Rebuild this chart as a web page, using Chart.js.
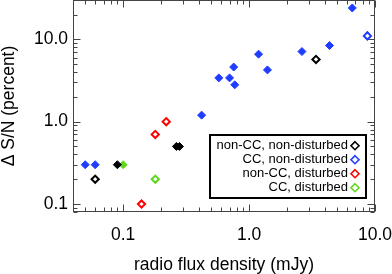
<!DOCTYPE html>
<html>
<head>
<meta charset="utf-8">
<script src="https://cdn.jsdelivr.net/npm/chart.js@4.4.0/dist/chart.umd.min.js"></script>
<style>
  html, body { margin: 0; padding: 0; background: #fff; }
  canvas { display: block; }
</style>
</head>
<body>
<canvas id="chart" width="392" height="274"></canvas>
<script>
// radio flux density (mJy) -> delta S/N (percent)
const nonCcUndistOpenX = [0.06, 3.4];
const nonCcUndistOpenY = [0.2, 5.7];
const nonCcUndistFilledX = [0.09, 0.265, 0.28];
const nonCcUndistFilledY = [0.3, 0.5, 0.5];
const ccUndistFilledX = [0.05, 0.06, 0.42, 0.575, 0.70, 0.755, 0.77, 1.19, 1.40, 2.63, 4.35, 6.6];
const ccUndistFilledY = [0.3, 0.3, 1.2, 3.4, 3.4, 4.6, 2.8, 6.6, 4.25, 7.1, 8.4, 24];
const ccUndistOpenX = [8.7];
const ccUndistOpenY = [11];
const nonCcDistX = [0.14, 0.18, 0.22];
const nonCcDistY = [0.1, 0.7, 1.0];
const ccDistFilledX = [0.1];
const ccDistFilledY = [0.3];
const ccDistOpenX = [0.18];
const ccDistOpenY = [0.2];

const xTicks = [0.1, 1, 10];
const yTicks = [0.1, 1, 10];
const legendLabels = ['non-CC, non-disturbed', 'CC, non-disturbed', 'non-CC, disturbed', 'CC, disturbed'];
const legendColors = ['#000000', '#1f3dff', '#ff0000', '#5fd81c'];

const FONT = "'Liberation Sans', Arial, Helvetica, sans-serif";

function pts(xs, ys) {
    return xs.map((x, i) => ({ x: x, y: ys[i] }));
}

function filled(data, color) {
    return { data: data, pointStyle: 'rectRot', pointRadius: 4, backgroundColor: color, borderColor: color, borderWidth: 1, showLine: false };
}

function open(data, color) {
    return { data: data, pointStyle: 'rectRot', pointRadius: 3.6, backgroundColor: '#fff', borderColor: color, borderWidth: 2, showLine: false };
}

// cadre avec graduations vers l'interieur sur les 4 cotes
const framePlugin = {
    id: 'frame',
    beforeDatasetsDraw(chart) {
        const ctx = chart.ctx;
        const a = chart.chartArea;
        const xs = chart.scales.x, ys = chart.scales.y;
        const L = Math.round(a.left) + 0.5, R = Math.round(a.right) - 0.5;
        const T = Math.round(a.top) + 0.5, B = Math.round(a.bottom) - 0.5;
        ctx.save();
        ctx.strokeStyle = '#444';
        ctx.lineWidth = 1;
        ctx.strokeRect(L, T, R - L, B - T);
        ctx.beginPath();
        for (let e = -2; e <= 1; e++) {
            for (let m = 1; m < 10; m++) {
                const v = m * Math.pow(10, e);
                const len = m === 1 ? 7 : 4;
                if (v >= xs.min * 0.999 && v <= xs.max * 1.001) {
                    const p = Math.round(xs.getPixelForValue(v)) + 0.5;
                    ctx.moveTo(p, B); ctx.lineTo(p, B - len);
                    ctx.moveTo(p, T); ctx.lineTo(p, T + len);
                }
                if (v >= ys.min * 0.999 && v <= ys.max * 1.001) {
                    const p = Math.round(ys.getPixelForValue(v)) + 0.5;
                    ctx.moveTo(L, p); ctx.lineTo(L + len, p);
                    ctx.moveTo(R, p); ctx.lineTo(R - len, p);
                }
            }
        }
        ctx.stroke();
        ctx.restore();
    }
};

// legende encadree, texte aligne a droite et losange a droite
const legendPlugin = {
    id: 'boxLegend',
    afterDraw(chart) {
        const ctx = chart.ctx;
        ctx.save();
        ctx.fillStyle = '#fff';
        ctx.fillRect(210, 135, 156, 63);
        ctx.strokeStyle = '#000';
        ctx.lineWidth = 2;
        ctx.strokeRect(210, 135, 156, 63);
        ctx.font = '13px ' + FONT;
        ctx.textAlign = 'right';
        ctx.textBaseline = 'middle';
        legendLabels.forEach((lab, i) => {
            const y = 145.7 + i * 14;
            ctx.fillStyle = '#000';
            ctx.fillText(lab, 348, y);
            ctx.beginPath();
            ctx.moveTo(355, y - 4); ctx.lineTo(359, y); ctx.lineTo(355, y + 4); ctx.lineTo(351, y);
            ctx.closePath();
            ctx.lineWidth = 1.6;
            ctx.strokeStyle = legendColors[i];
            ctx.stroke();
        });
        ctx.restore();
    }
};

Chart.defaults.color = '#000';
Chart.defaults.font.family = FONT;

new Chart(document.getElementById('chart').getContext('2d'), {
    type: 'scatter',
    data: {
        datasets: [
            open(pts(nonCcUndistOpenX, nonCcUndistOpenY), legendColors[0]),
            filled(pts(nonCcUndistFilledX, nonCcUndistFilledY), legendColors[0]),
            filled(pts(ccUndistFilledX, ccUndistFilledY), legendColors[1]),
            open(pts(ccUndistOpenX, ccUndistOpenY), legendColors[1]),
            open(pts(nonCcDistX, nonCcDistY), legendColors[2]),
            filled(pts(ccDistFilledX, ccDistFilledY), legendColors[3]),
            open(pts(ccDistOpenX, ccDistOpenY), legendColors[3])
        ]
    },
    options: {
        responsive: false,
        animation: false,
        devicePixelRatio: 1,
        layout: { autoPadding: false, padding: { top: 0, right: 17, left: 0, bottom: 0 } },
        plugins: { legend: { display: false }, tooltip: { enabled: false } },
        scales: {
            x: {
                type: 'logarithmic',
                min: 0.04,
                max: 10,
                grid: { display: false, drawTicks: false },
                border: { display: false },
                afterBuildTicks: s => { s.ticks = xTicks.map(v => ({ value: v })); },
                afterFit: s => { s.height = 62; s.paddingLeft = 0; s.paddingRight = 0; },
                ticks: {
                    autoSkip: false,
                    maxRotation: 0,
                    padding: 13,
                    font: { size: 17.5 },
                    callback: v => Number(v).toFixed(1)
                },
                title: {
                    display: true,
                    text: 'radio flux density (mJy)',
                    font: { size: 17.5, lineHeight: 1 },
                    padding: 0
                }
            },
            y: {
                type: 'logarithmic',
                min: 0.08,
                max: 30,
                grid: { display: false, drawTicks: false },
                border: { display: false },
                afterBuildTicks: s => { s.ticks = yTicks.map(v => ({ value: v })); },
                afterFit: s => { s.width = 73; s.paddingTop = 0; s.paddingBottom = 0; },
                ticks: {
                    autoSkip: false,
                    padding: 5,
                    font: { size: 17.5 },
                    callback: v => Number(v).toFixed(1)
                },
                title: {
                    display: true,
                    text: 'Δ S/N (percent)',
                    font: { size: 17.5, lineHeight: 1 },
                    padding: 0
                }
            }
        }
    },
    plugins: [framePlugin, legendPlugin]
});
</script>
</body>
</html>
